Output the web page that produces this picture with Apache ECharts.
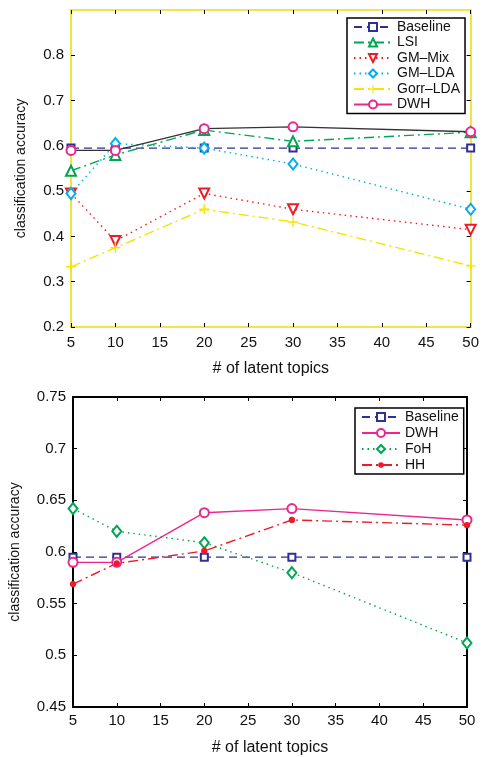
<!DOCTYPE html>
<html>
<head>
<meta charset="utf-8">
<script src="https://cdn.jsdelivr.net/npm/echarts@6/dist/echarts.min.js"></script>
<style>
html,body{margin:0;padding:0;background:#fff;}
#chart{width:482px;height:757px;}
</style>
</head>
<body>
<div id="chart"></div>
<script>
// ---- data ----
const topics = [5, 10, 20, 30, 50];
const xTicks = [5, 10, 15, 20, 25, 30, 35, 40, 45, 50];
const yTicksTop = [0.2, 0.3, 0.4, 0.5, 0.6, 0.7, 0.8];
const yTicksBottom = [0.45, 0.5, 0.55, 0.6, 0.65, 0.7, 0.75];

// top chart
const baselineTop = [0.595, 0.595, 0.595, 0.595, 0.595];
const lsi = [0.545, 0.58, 0.635, 0.61, 0.63];
const gmMix = [0.495, 0.39, 0.495, 0.46, 0.415];
const gmLda = [0.495, 0.605, 0.595, 0.56, 0.46];
const gorrLda = [0.333, 0.375, 0.46, 0.432, 0.335];
const dwhTop = [0.59, 0.59, 0.638, 0.642, 0.631];

// bottom chart
const baselineBottom = [0.595, 0.595, 0.595, 0.595, 0.595];
const dwhBottom = [0.59, 0.59, 0.638, 0.642, 0.631];
const foh = [0.642, 0.62, 0.609, 0.58, 0.512];
const hh = [0.569, 0.589, 0.601, 0.631, 0.626];

const topLegend = ['Baseline', 'LSI', 'GM\u2013Mix', 'GM\u2013LDA', 'Gorr\u2013LDA', 'DWH'];
const bottomLegend = ['Baseline', 'DWH', 'FoH', 'HH'];

// ---- style ----
const FONT = 'Liberation Sans, Arial, Helvetica, sans-serif';
const C = {
  blue: '#2e3192', green: '#00a651', red: '#ed1c24', cyan: '#00aeef',
  yellow: '#f5e400', magenta: '#ec268f', gray: '#333333', frameY: '#eedc14'
};
const pairs = v => topics.map((t, i) => [t, v[i]]);

function xAxisPair(grid, frameColor, frameW, margin, nameGap) {
  const common = {
    type: 'value', gridIndex: grid, min: 5, max: 50,
    axisLine: {show: true, onZero: false, lineStyle: {color: frameColor, width: frameW}},
    axisTick: {show: true, inside: true, length: 4, customValues: xTicks, lineStyle: {color: '#000', width: 1}},
    splitLine: {show: false}
  };
  return [
    Object.assign({}, common, {
      position: 'bottom',
      axisLabel: {show: true, customValues: xTicks, color: '#111', fontSize: 15, fontFamily: FONT, margin: margin},
      name: '# of latent topics', nameLocation: 'middle', nameGap: nameGap,
      nameTextStyle: {color: '#111', fontSize: 16, fontFamily: FONT}
    }),
    Object.assign({}, common, {position: 'top', axisLabel: {show: false}})
  ];
}
function yAxisPair(grid, min, max, ticks, frameColor, frameW, nameGap) {
  const common = {
    type: 'value', gridIndex: grid, min: min, max: max,
    axisLine: {show: true, onZero: false, lineStyle: {color: frameColor, width: frameW}},
    axisTick: {show: true, inside: true, length: 4, customValues: ticks, lineStyle: {color: '#000', width: 1}},
    splitLine: {show: false}
  };
  return [
    Object.assign({}, common, {
      position: 'left',
      axisLabel: {show: true, customValues: ticks, color: '#111', fontSize: 15, fontFamily: FONT, margin: 7},
      name: 'classification accuracy', nameLocation: 'middle', nameGap: nameGap,
      nameTextStyle: {color: '#111', fontSize: 14, fontFamily: FONT}
    }),
    Object.assign({}, common, {position: 'right', axisLabel: {show: false}})
  ];
}

function line(name, data, xi, yi, color, lineType, symbol, size, extra) {
  const s = {
    name: name, type: 'line', xAxisIndex: xi, yAxisIndex: yi, data: pairs(data),
    symbol: symbol, symbolSize: size, showAllSymbol: true,
    lineStyle: {color: color, width: 1.4, type: lineType},
    itemStyle: {color: color, borderColor: color, borderWidth: 1.4},
    emphasis: {disabled: true}, animation: false, z: 3
  };
  return Object.assign(s, extra || {});
}
const CROSS = 'path://M4.3,0H5.7V4.3H10V5.7H5.7V10H4.3V5.7H0V4.3H4.3Z';
const DOT = 'path://M0,0M10,10M5,1.5A3.5,3.5,0,1,1,5,8.5A3.5,3.5,0,1,1,5,1.5Z';
const dashed = [8, 5];
const dashDot = [10, 4, 2, 4];
const dotted = [1.5, 4];

const option = {
  backgroundColor: '#fff',
  animation: false,
  textStyle: {fontFamily: FONT},
  grid: [
    {left: 71, top: 10, width: 403, height: 317},
    {left: 71, top: 397, width: 396, height: 313}
  ],
  xAxis: [...xAxisPair(0, C.frameY, 1.6, 8, 34), ...xAxisPair(1, '#000', 2, 6, 33)],
  yAxis: [...yAxisPair(0, 0.2, 0.9, yTicksTop, C.frameY, 1.6, 43), ...yAxisPair(1, 0.45, 0.75, yTicksBottom, '#000', 2, 51)],
  legend: [
    {
      orient: 'vertical', left: 347, top: 18, itemWidth: 38, itemHeight: 10, itemGap: 1.5,
      padding: [2, 5, 2, 6], borderColor: '#000', borderWidth: 1.5, backgroundColor: '#fff',
      textStyle: {fontSize: 14, fontFamily: FONT, color: '#111', lineHeight: 14},
      selectedMode: false,
      data: topLegend.map(n => n === 'DWH' ? {name: n, lineStyle: {color: C.magenta, type: 'solid'}} : {name: n})
    },
    {
      orient: 'vertical', left: 355, top: 408, itemWidth: 38, itemHeight: 10, itemGap: 2,
      padding: [2, 5, 2, 6], borderColor: '#000', borderWidth: 1.5, backgroundColor: '#fff',
      textStyle: {fontSize: 14, fontFamily: FONT, color: '#111', lineHeight: 14},
      selectedMode: false,
      data: bottomLegend.map(n => n === 'DWH' ? {name: n, lineStyle: {color: C.magenta, type: 'solid'}} : {name: n})
    }
  ],
  series: [
    line('Baseline', baselineTop, 0, 0, C.blue, dashed, 'emptyRect', 7),
    line('LSI', lsi, 0, 0, C.green, dashDot, 'emptyTriangle', 10),
    line('GM\u2013Mix', gmMix, 0, 0, C.red, dotted, 'emptyTriangle', 10, {symbolRotate: 180}),
    line('GM\u2013LDA', gmLda, 0, 0, C.cyan, dotted, 'emptyDiamond', [9, 11]),
    line('Gorr\u2013LDA', gorrLda, 0, 0, C.yellow, dashDot, CROSS, 10, {itemStyle: {color: C.yellow, borderWidth: 0}}),
    line('DWH', dwhTop, 0, 0, C.magenta, 'solid', 'emptyCircle', 9, {lineStyle: {color: C.gray, width: 1.4, type: 'solid'}}),

    line('Baseline', baselineBottom, 2, 2, C.blue, dashed, 'emptyRect', 7),
    line('DWH', dwhBottom, 2, 2, C.magenta, 'solid', 'emptyCircle', 9),
    line('FoH', foh, 2, 2, C.green, dotted, 'emptyDiamond', [9, 11]),
    line('HH', hh, 2, 2, C.red, dashDot, DOT, 9, {itemStyle: {color: C.red, borderWidth: 0}})
  ]
};

const chart = echarts.init(document.getElementById('chart'), null, {renderer: 'canvas'});
chart.setOption(option);
</script>
</body>
</html>
